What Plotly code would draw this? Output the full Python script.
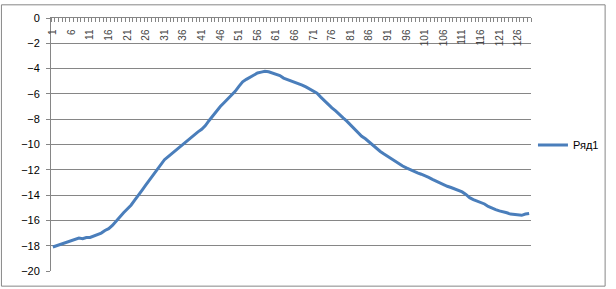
import plotly.graph_objects as go

categories = list(range(1, 130))
values = [
    -18.1, -18.0, -17.9, -17.8, -17.7, -17.55, -17.45, -17.4, -17.45, -17.35,
    -17.35, -17.25, -17.1, -17.0, -16.8, -16.65, -16.4, -16.05, -15.7, -15.4,
    -15.1, -14.8, -14.4, -13.95, -13.6, -13.2, -12.8, -12.35, -11.95, -11.6,
    -11.2, -10.95, -10.7, -10.45, -10.2, -9.95, -9.7, -9.5, -9.25, -9.0,
    -8.8, -8.5, -8.1, -7.7, -7.35, -7.0, -6.7, -6.4, -6.1, -5.8,
    -5.4, -5.05, -4.85, -4.7, -4.5, -4.35, -4.28, -4.22, -4.25, -4.35,
    -4.5, -4.55, -4.75, -4.85, -4.95, -5.05, -5.2, -5.3, -5.45, -5.6,
    -5.75, -5.95, -6.25, -6.55, -6.85, -7.1, -7.35, -7.65, -7.9, -8.15,
    -8.45, -8.75, -9.05, -9.35, -9.55, -9.8, -10.1, -10.35, -10.55, -10.75,
    -10.95, -11.15, -11.35, -11.5, -11.7, -11.85, -12.0, -12.1, -12.25, -12.35,
    -12.45, -12.6, -12.75, -12.9, -13.0, -13.15, -13.3, -13.4, -13.5, -13.6,
    -13.75, -13.95, -14.2, -14.35, -14.45, -14.55, -14.7, -14.9, -15.05, -15.15,
    -15.25, -15.3, -15.4, -15.5, -15.55, -15.6, -15.6, -15.5, -15.45,
]
series_name = "Ряд1"
x_tickvals = list(range(1, 130, 5))
x_ticklabels = [str(v) for v in x_tickvals]
y_tickvals = list(range(-20, 1, 2))

W, H = 616, 289
L, R, T, B = 51, 76, 14, 16
pw, ph = W - L - R, H - T - B
grid = "#868686"

fig = go.Figure()
fig.add_trace(go.Scatter(
    x=categories, y=values, mode="lines", name=series_name,
    line=dict(color="#4A7EBB", width=3), showlegend=True,
))

fig.update_layout(
    width=W, height=H,
    margin=dict(l=L, r=R, t=T, b=B),
    paper_bgcolor="white", plot_bgcolor="white",
    font=dict(family="Liberation Sans, Arial, sans-serif", color="black"),
    showlegend=True,
    legend=dict(x=(542 - L) / pw, xanchor="left", y=(H - B - 144) / ph, yanchor="middle",
                font=dict(size=11), bgcolor="rgba(0,0,0,0)", itemwidth=30),
    xaxis=dict(
        range=[0.5, 129.5], side="top", showgrid=False, zeroline=False,
        showline=True, linecolor=grid, linewidth=1,
        tickmode="array", tickvals=x_tickvals, ticktext=x_ticklabels,
        ticks="", ticklabelposition="inside", tickangle=-90,
        ticklabeloverflow="allow", ticklabelstandoff=5,
        tickfont=dict(size=10),
        minor=dict(tickmode="linear", tick0=0.5, dtick=1, ticks="inside",
                   ticklen=4, tickcolor=grid, showgrid=False),
    ),
    yaxis=dict(
        range=[-20, 0], tickmode="array", tickvals=y_tickvals,
        showgrid=True, gridcolor=grid, gridwidth=1, zeroline=False,
        showline=True, linecolor=grid, linewidth=1,
        ticks="outside", ticklen=4, tickcolor=grid,
        ticklabeloverflow="allow",
        tickfont=dict(size=11), ticklabelstandoff=4,
    ),
    shapes=[dict(
        type="rect", xref="paper", yref="paper",
        x0=(-L + 0.5) / pw, x1=(W - L - 0.5) / pw,
        y0=(-B + 0.5) / ph, y1=1 + (T - 0.5) / ph,
        line=dict(color=grid, width=1), fillcolor="rgba(0,0,0,0)", layer="below",
    )],
)

fig.write_html("out.html")
